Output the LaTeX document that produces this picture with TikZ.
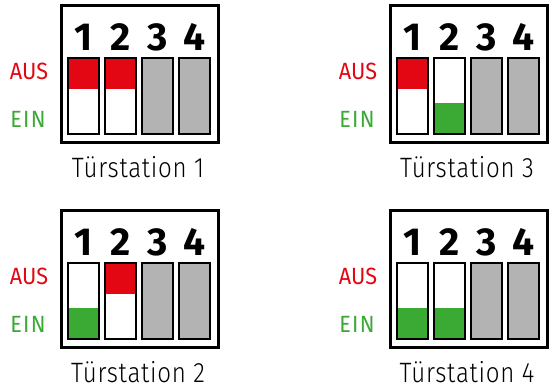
\documentclass[tikz,border=0pt]{standalone}
\usepackage{fontspec}
\setmainfont{Fira Sans}
\newfontfamily\capfont{Fira Sans Light}
\usetikzlibrary{calc}
\definecolor{ausred}{HTML}{E30613}
\definecolor{eingreen}{HTML}{3AAA35}
\definecolor{offgray}{HTML}{B3B3B3}
\tikzset{
  panelbox/.style={draw=black, line width=2.6pt, fill=white, inner sep=0pt, minimum width=157pt, minimum height=137pt, anchor=north west},
  switchbox/.style={draw=black, line width=2.4pt, fill=white, inner sep=0pt, minimum width=31pt, minimum height=76pt, anchor=north west},
  graysw/.style={switchbox, fill=offgray},
  redsw/.style={switchbox, path picture={\fill[ausred] (path picture bounding box.north west) rectangle ($(path picture bounding box.north east)+(0,31)$);}},
  greensw/.style={switchbox, path picture={\fill[eingreen] (path picture bounding box.south west) rectangle ($(path picture bounding box.south east)+(0,-31)$);}},
  digit/.style={font=\fontsize{39}{39}\selectfont\bfseries, inner sep=0pt},
  auslbl/.style={font=\fontsize{23.5}{23.5}\selectfont, text=ausred, inner sep=0pt, xscale=0.92},
  einlbl/.style={font=\fontsize{23.5}{23.5}\selectfont\addfontfeatures{LetterSpace=6}, text=eingreen, inner sep=0pt, xscale=0.92},
  caption/.style={font=\fontsize{28}{28}\selectfont\capfont\addfontfeatures{LetterSpace=3}, inner sep=0pt, xscale=0.86, anchor=base},
}
\newcommand{\dippanel}[6]{%
  \node[panelbox] (#1) at (#2,#3) {};
  \node[#4] (#1-s1) at ($(#1.north west)+(7,53)$) {};
  \node[#5] (#1-s2) at ($(#1.north west)+(44,53)$) {};
  \node[graysw] (#1-s3) at ($(#1.north west)+(81,53)$) {};
  \node[graysw] (#1-s4) at ($(#1.north west)+(118,53)$) {};
  \foreach \i in {1,2,3,4}{\node[digit] (#1-d\i) at ($(#1-s\i.north)+(0,-20)$) {\i};}
  \node[auslbl] (#1-aus) at ($(#1.north west)+(-31,67)$) {AUS};
  \node[einlbl] (#1-ein) at ($(#1.north west)+(-32,115)$) {EIN};
  \node[caption] (#1-cap) at ($(#1.north west)+(78,173)$) {#6};
}
\begin{document}
\begin{tikzpicture}[x=1pt,y=-1pt]
\useasboundingbox (0,0) rectangle (549,386);
\dippanel{pa}{60}{4}{redsw}{redsw}{Türstation 1}
\dippanel{pc}{389}{4}{redsw}{greensw}{Türstation 3}
\dippanel{pb}{60}{209}{greensw}{redsw}{Türstation 2}
\dippanel{pd}{389}{209}{greensw}{greensw}{Türstation 4}
\end{tikzpicture}
\end{document}
